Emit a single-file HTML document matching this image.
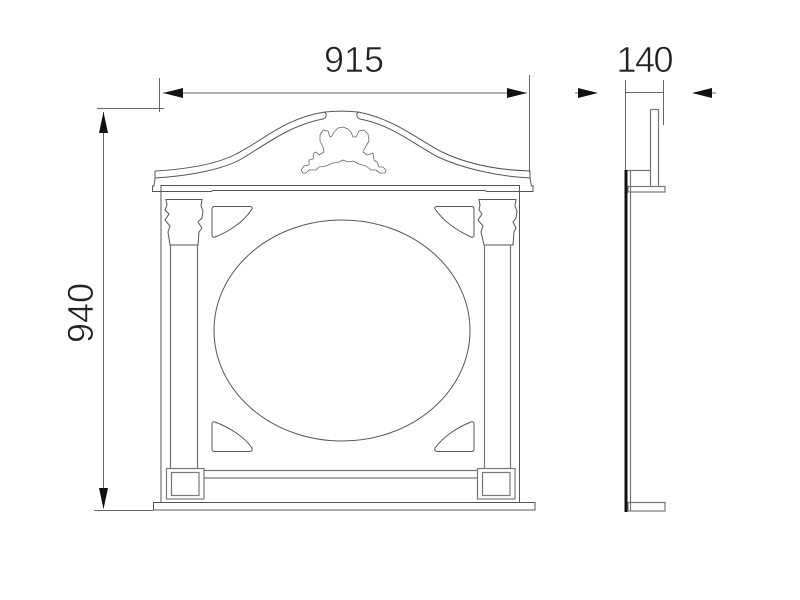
<!DOCTYPE html>
<html><head><meta charset="utf-8"><style>
html,body{margin:0;padding:0;background:#fff}
svg{display:block}
text{font-family:"Liberation Sans",sans-serif;font-size:36px;fill:#222;text-anchor:middle;stroke:#fff;stroke-width:.6px}
.l{fill:none;stroke:#555;stroke-width:1}
.o{fill:none;stroke:#666;stroke-width:.8}
.g{fill:none;stroke:#777;stroke-width:1.2}
.d{fill:none;stroke:#666;stroke-width:1}
.a{fill:#111;stroke:none}
</style></head><body>
<svg width="800" height="600" viewBox="0 0 800 600" xmlns="http://www.w3.org/2000/svg">
<!-- dimensions -->
<path class="d" d="M163 93H527M529.500 75V172M159.500 78V112M97 108.500H164M103.500 112V508M94 510.500H153"/>
<path class="d" d="M575 93H580M710 93H716"/>
<path class="a" d="M163 93L183 88V98ZM527 93L507 88V98ZM103.500 112L99 133H108ZM103.500 509L99 488H108Z"/>
<text x="354" y="72">915</text>
<text transform="translate(93 313) rotate(-90)">940</text>
<text x="645" y="72" textLength="57">140</text>
<!-- pediment -->
<path class="l" d="M155 171C190 169 220 163 238 153C262 141 285 118 325 112C335 111 348 111 358 112C395 119 420 141 442 152C465 163 495 170 530 171"/>
<path class="l" d="M155 178C190 176 225 169 243 158C265 145 290 125 323 119C327 118 327 113 324 112M530 178C495 176 462 168 438 157C415 145 392 125 360 119C356 118 356 113 359 112"/>
<path class="l" d="M155 171V178L154 186H152.500V191.500H211L213 190.500H485L487 191.500H533V186H531.500L530 178V171"/>
<path class="l" d="M161 185.500H520M161 185V502M519.500 185V502"/>
<!-- ornament -->
<path class="o" stroke-linejoin="round" d="M343 127L338 128L334 132L332 136L330 137L328 131L323 130L320 135L320 141L323 147L324 152L319 155L316 152L314 153L313 159L309 160L309 165L304 166L301 170L303 173L306 173L309 170L316 170L319 167L326 166L333 163L339 162L343 160L348 162L353 161L359 164L366 166L371 170L376 170L380 173L385 173L386 170L383 167L379 167L377 162L374 160L373 153L370 154L367 155L363 152L366 146L369 141L368 134L364 130L359 131L356 137L353 137L351 132L348 129Z"/>
<!-- capitals -->
<path class="l" d="M166 199.500H202L201 206L203 211L202 218L198 222L202 228L199 232L198 245H170L168 232L170 226L165 220L169 214L165 210L167 205Z"/>
<path class="l" d="M479 199.500H516L515 206L517 211L516 218L513 222L516 228L514 232L513 245H484L481 232L483 226L478 220L482 214L479 210L480 205Z"/>
<path class="g" d="M170.500 245V468M197.500 245V468M484.500 245V468M510.500 245V468"/>
<!-- panels -->
<path class="l" d="M214 206.500H250Q253 207 252 209C244 222 228 232 215 237Q212 238 212 235V209Q212 207 214 206.500Z"/>
<path class="l" d="M472 206.500H437Q434 207 435 209C444 222 458 231 471 237Q474 238 474 235V209Q474 207 472 206.500Z"/>
<path class="l" d="M214 451.500H250Q253 451 252 448C244 436 228 427 215 422Q212 421 212 424V449Q212 451 214 451.500Z"/>
<path class="l" d="M472 451.500H437Q434 451 435 448C444 436 458 427 471 422Q474 421 474 424V449Q474 451 472 451.500Z"/>
<ellipse class="l" cx="342" cy="330.500" rx="128" ry="110.500"/>
<!-- base -->
<path class="g" d="M204 470.500H477M204 478H477"/>
<rect class="g" x="166.500" y="468.500" width="37.500" height="30.500"/>
<rect class="g" x="171.500" y="472.500" width="27.500" height="23"/>
<rect class="g" x="477.500" y="468.500" width="37.500" height="30.500"/>
<rect class="g" x="482.500" y="472.500" width="27.500" height="23"/>
<rect class="l" x="153.500" y="502.500" width="381.500" height="7.500"/>
<!-- side view -->
<path class="d" d="M625.500 80V170M663.500 80V125M625 92.500H663"/>
<path class="a" d="M578 88L598 93L578 98ZM712 88L692 93L712 98Z"/>
<path class="g" d="M650.500 109.500H658.500V186M650.500 109.500V186M627 170.500H650.500M630.500 170V511"/>
<rect class="g" x="628" y="186.500" width="37" height="5.500"/>
<rect class="g" x="628" y="502.500" width="37" height="8.500"/>
<rect x="624.500" y="170" width="3" height="342" fill="#111"/>
</svg>
</body></html>
